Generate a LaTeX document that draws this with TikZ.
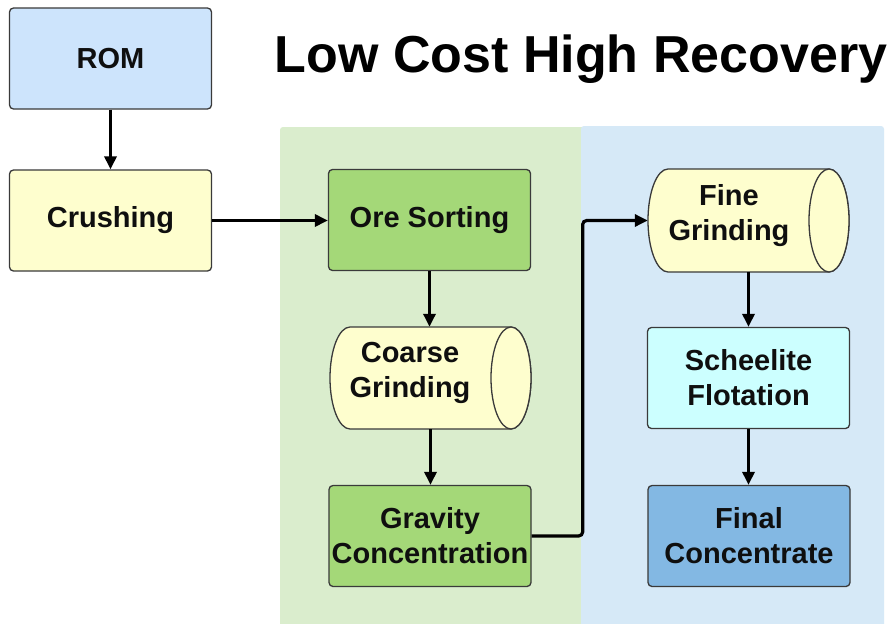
\documentclass[tikz,border=0pt]{standalone}
\usepackage{fontspec}
\setmainfont{Liberation Sans}
\usetikzlibrary{arrows.meta}
\definecolor{romblue}{RGB}{205,228,252}
\definecolor{paleyellow}{RGB}{254,254,206}
\definecolor{greenbox}{RGB}{164,216,120}
\definecolor{greenpanel}{RGB}{218,237,205}
\definecolor{bluepanel}{RGB}{214,233,247}
\definecolor{palecyan}{RGB}{204,255,255}
\definecolor{finalblue}{RGB}{131,184,227}
\definecolor{bordergray}{RGB}{58,58,58}
\definecolor{inkblack}{RGB}{15,15,15}
\newcommand{\boxfont}{\fontsize{29}{35}\selectfont\bfseries}
\begin{document}
\begin{tikzpicture}[x=1pt,y=-1pt,
  box/.style={draw=bordergray, line width=1.3pt, rounded corners=4pt,
    minimum width=202pt, minimum height=101pt, font=\boxfont,
    text=inkblack, align=center, inner sep=1pt},
  cylslot/.style={minimum width=201pt, minimum height=102pt, inner sep=0pt},
  cyldraw/.style={draw=bordergray, line width=1.3pt, fill=paleyellow},
  lbl/.style={font=\boxfont, text=inkblack, align=center, inner sep=0pt},
  flow/.style={draw=black, line width=3.2pt, -{Triangle[length=13pt,width=12pt]}},
  panelgreen/.style={fill=greenpanel, rounded corners=3pt},
  panelblue/.style={fill=bluepanel, rounded corners=3pt}]
\useasboundingbox (0,0) rectangle (892,624);
\fill[white] (0,0) rectangle (892,624);
% panels
\fill[panelgreen] (280,127) rectangle (585,630);
\fill[panelblue] (581,126) rectangle (884,630);
% title
\node[font=\fontsize{52}{60}\selectfont\bfseries, text=black, anchor=base, inner sep=0pt] (title) at (581,72) {Low Cost High Recovery};
% boxes
\node[box, fill=romblue] (rom) at (110.5,58.5) {ROM};
\node[box, fill=paleyellow] (crush) at (110.5,220.5) {Crushing};
\node[box, fill=greenbox] (ore) at (429.5,220) {Ore Sorting};
\node[box, fill=greenbox] (grav) at (430,536) {Gravity\\Concentration};
\node[box, fill=palecyan] (schee) at (748.5,378) {Scheelite\\Flotation};
\node[box, fill=finalblue] (final) at (749,536) {Final\\Concentrate};
% cylinders
\node[cylslot] (coarse) at (430.5,378) {};
\draw[cyldraw] (511,327) -- (350,327) arc[start angle=90,end angle=270,x radius=20pt,y radius=51pt]
  -- (511,429) arc[start angle=-90,end angle=90,x radius=20pt,y radius=51pt] -- cycle;
\draw[cyldraw] (511,378) ellipse[x radius=20pt,y radius=51pt];
\node[lbl] (coarsetxt) at (410,373) {Coarse\\Grinding};
\node[cylslot] (fine) at (748.5,220.5) {};
\draw[cyldraw] (829,169) -- (668,169) arc[start angle=90,end angle=270,x radius=20pt,y radius=51.5pt]
  -- (829,272) arc[start angle=-90,end angle=90,x radius=20pt,y radius=51.5pt] -- cycle;
\draw[cyldraw] (829,220.5) ellipse[x radius=20pt,y radius=51.5pt];
\node[lbl] (finetxt) at (729,216) {Fine\\Grinding};
% connectors
\draw[flow] (rom.south) -- (crush.north);
\draw[flow] (crush.east) -- (ore.west |- crush.east);
\draw[flow] (ore.south) -- (ore.south |- coarse.north);
\draw[flow] (coarse.south) -- (coarse.south |- grav.north);
\draw[flow, rounded corners=4pt] (grav.east) -- ++(51,0) |- (fine.west);
\draw[flow] (fine.south) -- (fine.south |- schee.north);
\draw[flow] (schee.south) -- (schee.south |- final.north);
\end{tikzpicture}
\end{document}
